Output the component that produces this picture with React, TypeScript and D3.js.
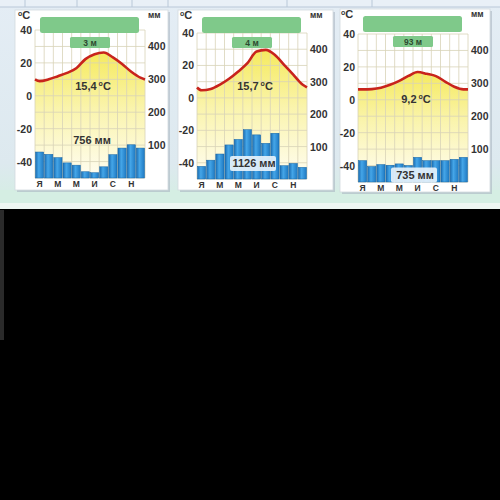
import React from "react";
import * as d3 from "d3";

// month initials (only every other one is printed)
const monthNames = ["Я", "Ф", "М", "А", "М", "И", "И", "А", "С", "О", "Н", "Д"];
const tempTicks = [40, 20, 0, -20, -40];
const precipTicks = [400, 300, 200, 100];

// station 1
const temp1 = [8.9, 10, 11.9, 13.9, 16.7, 22.3, 25.3, 26.3, 23.3, 19.3, 14.6, 11];
const precip1 = [79, 72, 62, 46, 39, 19, 16, 34, 71, 91, 101, 91];
// station 2
const temp2 = [4.7, 5.5, 8.2, 11.8, 16.3, 21.4, 28.6, 29.6, 26.5, 20.4, 14.3, 8.2];
const precip2 = [39, 58, 77, 105, 122, 152, 136, 110, 141, 41, 48, 36];
// station 3
const temp3 = [6.3, 6.5, 7.3, 9.1, 11.5, 14.5, 16.9, 15.8, 14.4, 11.1, 7.9, 6.3];
const precip3 = [65, 47, 53, 51, 55, 50, 75, 65, 65, 65, 69, 75];

const altitudes = ["3 м", "4 м", "93 м"];
const meanTemps = ["15,4", "15,7", "9,2"];
const totalPrecip = ["756 мм", "1126 мм", "735 мм"];

const FONT = "'Liberation Sans', Arial, sans-serif";

type Box = { x: number; y: number; w: number; h: number };
type PanelProps = {
  id: string;
  temps: number[];
  precip: number[];
  alt: string;
  tMean: string;
  pTotal: string;
  card: Box;
  plot: { left: number; right: number; top: number; bottom: number };
  tLabelAt: number; // °C level of the mean temp label
  pLabelAt: number; // mm level of the precip label
  pBox: boolean;
};

const Panel: React.FC<PanelProps> = ({ id, temps, precip, alt, tMean, pTotal, card, plot, tLabelAt, pLabelAt, pBox }) => {
  const xb = d3.scaleBand<number>().domain(d3.range(12)).range([plot.left, plot.right]).paddingInner(0.1).paddingOuter(0.05);
  const xl = d3.scaleLinear().domain([-0.5, 11.5]).range([plot.left, plot.right]);
  const yT = d3.scaleLinear().domain([-50, 40]).range([plot.bottom, plot.top]);
  const yP = d3.scaleLinear().domain([0, 450]).range([plot.bottom, plot.top]);

  // curve runs edge to edge; the edge value is the Dec/Jan midpoint
  const edge = (temps[0] + temps[11]) / 2;
  const pts: [number, number][] = [[-0.5, edge], ...temps.map((t, i) => [i, t] as [number, number]), [11.5, edge]];
  const line = d3.line<[number, number]>().x((d) => xl(d[0])).y((d) => yT(d[1])).curve(d3.curveMonotoneX);
  const area = d3.area<[number, number]>().x((d) => xl(d[0])).y0(plot.bottom).y1((d) => yT(d[1])).curve(d3.curveMonotoneX);

  const cx = (plot.left + plot.right) / 2;
  const tMax = d3.max(temps) ?? 30;

  return (
    <g>
      <defs>
        <linearGradient id={`fill-${id}`} gradientUnits="userSpaceOnUse" x1="0" x2="0" y1={yT(tMax)} y2={plot.bottom}>
          <stop offset="0" stopColor="#f5ea5e" />
          <stop offset="0.45" stopColor="#faf4ad" />
          <stop offset="1" stopColor="#fffdf2" />
        </linearGradient>
        <linearGradient id={`bar-${id}`} x1="0" x2="1" y1="0" y2="0">
          <stop offset="0" stopColor="#1a6db3" />
          <stop offset="0.4" stopColor="#45a6e8" />
          <stop offset="1" stopColor="#1e79c2" />
        </linearGradient>
      </defs>
      {/* card */}
      <rect x={card.x + 2} y={card.y + 2} width={card.w} height={card.h} fill="#aab6c2" opacity={0.6} />
      <rect x={card.x} y={card.y} width={card.w} height={card.h} fill="#ffffff" stroke="#d2d9df" strokeWidth={0.8} />

      {/* yellow area under temperature curve */}
      <path d={area(pts) ?? ""} fill={`url(#fill-${id})`} />

      {/* grid */}
      {d3.range(-50, 41, 10).map((t) => (
        <line key={`h${t}`} x1={plot.left} x2={plot.right} y1={yT(t)} y2={yT(t)} stroke="#d8d3b8" strokeWidth={0.8} />
      ))}
      {d3.range(13).map((i) => (
        <line key={`v${i}`} x1={xl(i - 0.5)} x2={xl(i - 0.5)} y1={yT(40)} y2={plot.bottom} stroke="#d8d3b8" strokeWidth={0.8} />
      ))}

      {/* precipitation bars */}
      {precip.map((p, i) => (
        <rect
          key={`b${i}`}
          x={xb(i)}
          y={yP(p)}
          width={xb.bandwidth()}
          height={plot.bottom - yP(p)}
          fill={`url(#bar-${id})`}
          stroke="#1764a3"
          strokeWidth={0.5}
        />
      ))}

      {/* temperature curve */}
      <path d={line(pts) ?? ""} fill="none" stroke="#c8241c" strokeWidth={2.6} strokeLinejoin="round" />

      {/* header boxes */}
      <rect x={plot.left + 5} y={card.y + 7} width={plot.right - plot.left - 11} height={16} rx={2.5} fill="#7fc98a" />
      <rect x={cx - 20} y={card.y + 27} width={40} height={11} rx={1.5} fill="#7fc98a" />
      <text x={cx} y={card.y + 35.5} textAnchor="middle" fontFamily={FONT} fontWeight="bold" fontSize={8.5} fill="#2d4a30">
        {alt}
      </text>

      {/* axes labels */}
      <text x={plot.left - 17} y={card.y + 9} fontFamily={FONT} fontWeight="bold" fontSize={11} fill="#333">
        <tspan fontSize={7} dy={-3}>o</tspan>
        <tspan dy={3}>C</tspan>
      </text>
      <text x={plot.right + 3} y={card.y + 8} fontFamily={FONT} fontWeight="bold" fontSize={8.5} fill="#333">
        мм
      </text>
      {tempTicks.map((t) => (
        <text key={`tt${t}`} x={plot.left - 3} y={yT(t) + 4} textAnchor="end" fontFamily={FONT} fontWeight="bold" fontSize={10.5} fill="#333">
          {t}
        </text>
      ))}
      {precipTicks.map((p) => (
        <text key={`pt${p}`} x={plot.right + 3} y={yP(p) + 4} fontFamily={FONT} fontWeight="bold" fontSize={10.5} fill="#333">
          {p}
        </text>
      ))}
      {monthNames.map((m, i) =>
        i % 2 === 0 ? (
          <text key={`m${i}`} x={xl(i)} y={plot.bottom + 8.5} textAnchor="middle" fontFamily={FONT} fontWeight="bold" fontSize={8.5} fill="#333">
            {m}
          </text>
        ) : null
      )}

      {/* mean temperature */}
      <text x={cx + 3} y={yT(tLabelAt) + 4} textAnchor="middle" fontFamily={FONT} fontWeight="bold" fontSize={11} fill="#333">
        {tMean}
        <tspan fontSize={7} dx={2} dy={-4}>o</tspan>
        <tspan dy={4}>C</tspan>
      </text>

      {/* annual precipitation */}
      {pBox && (
        <rect x={cx - 22} y={yP(pLabelAt) - 7.5} width={46} height={15} rx={2} fill="#e6f2fb" opacity={0.92} />
      )}
      <text x={cx + 2} y={yP(pLabelAt) + 4} textAnchor="middle" fontFamily={FONT} fontWeight="bold" fontSize={11} fill="#333">
        {pTotal}
      </text>
    </g>
  );
};

export default function App() {
  const topLines = [25, 77, 132, 168, 287, 372];
  return (
    <svg width={500} height={500} style={{ position: "absolute", left: 0, top: 0 }}>
      <defs>
        <linearGradient id="bg" x1="0" x2="0" y1="0" y2="1">
          <stop offset="0" stopColor="#e4edf5" />
          <stop offset="0.8" stopColor="#dde9ef" />
          <stop offset="1" stopColor="#d4eee2" />
        </linearGradient>
      </defs>
      <rect x={0} y={0} width={500} height={500} fill="#000" />
      <rect x={0} y={0} width={500} height={204} fill="url(#bg)" />
      <rect x={0} y={190} width={500} height={14} fill="#d5eee3" />
      <rect x={0} y={203} width={500} height={6} fill="#eef6f2" />
      <rect x={0} y={0} width={500} height={7} fill="#e9f0f7" />
      <line x1={0} x2={500} y1={7} y2={7} stroke="#b9c8d8" strokeWidth={1} />
      {topLines.map((x) => (
        <line key={x} x1={x} x2={x} y1={0} y2={7} stroke="#b9c8d8" strokeWidth={1} />
      ))}
      <rect x={0} y={210} width={4} height={130} fill="#2a2a2a" />

      <Panel
        id="p1"
        temps={temp1}
        precip={precip1}
        alt={altitudes[0]}
        tMean={meanTemps[0]}
        pTotal={totalPrecip[0]}
        card={{ x: 15, y: 10, w: 153, h: 180 }}
        plot={{ left: 35, right: 145, top: 30, bottom: 178 }}
        tLabelAt={6}
        pLabelAt={115}
        pBox={false}
      />
      <Panel
        id="p2"
        temps={temp2}
        precip={precip2}
        alt={altitudes[1]}
        tMean={meanTemps[1]}
        pTotal={totalPrecip[1]}
        card={{ x: 178, y: 10, w: 155, h: 180 }}
        plot={{ left: 197, right: 307, top: 33, bottom: 179 }}
        tLabelAt={7.4}
        pLabelAt={48}
        pBox={true}
      />
      <Panel
        id="p3"
        temps={temp3}
        precip={precip3}
        alt={altitudes[2]}
        tMean={meanTemps[2]}
        pTotal={totalPrecip[2]}
        card={{ x: 340, y: 9, w: 150, h: 183 }}
        plot={{ left: 358, right: 468, top: 34, bottom: 182 }}
        tLabelAt={0.6}
        pLabelAt={21}
        pBox={true}
      />
    </svg>
  );
}
